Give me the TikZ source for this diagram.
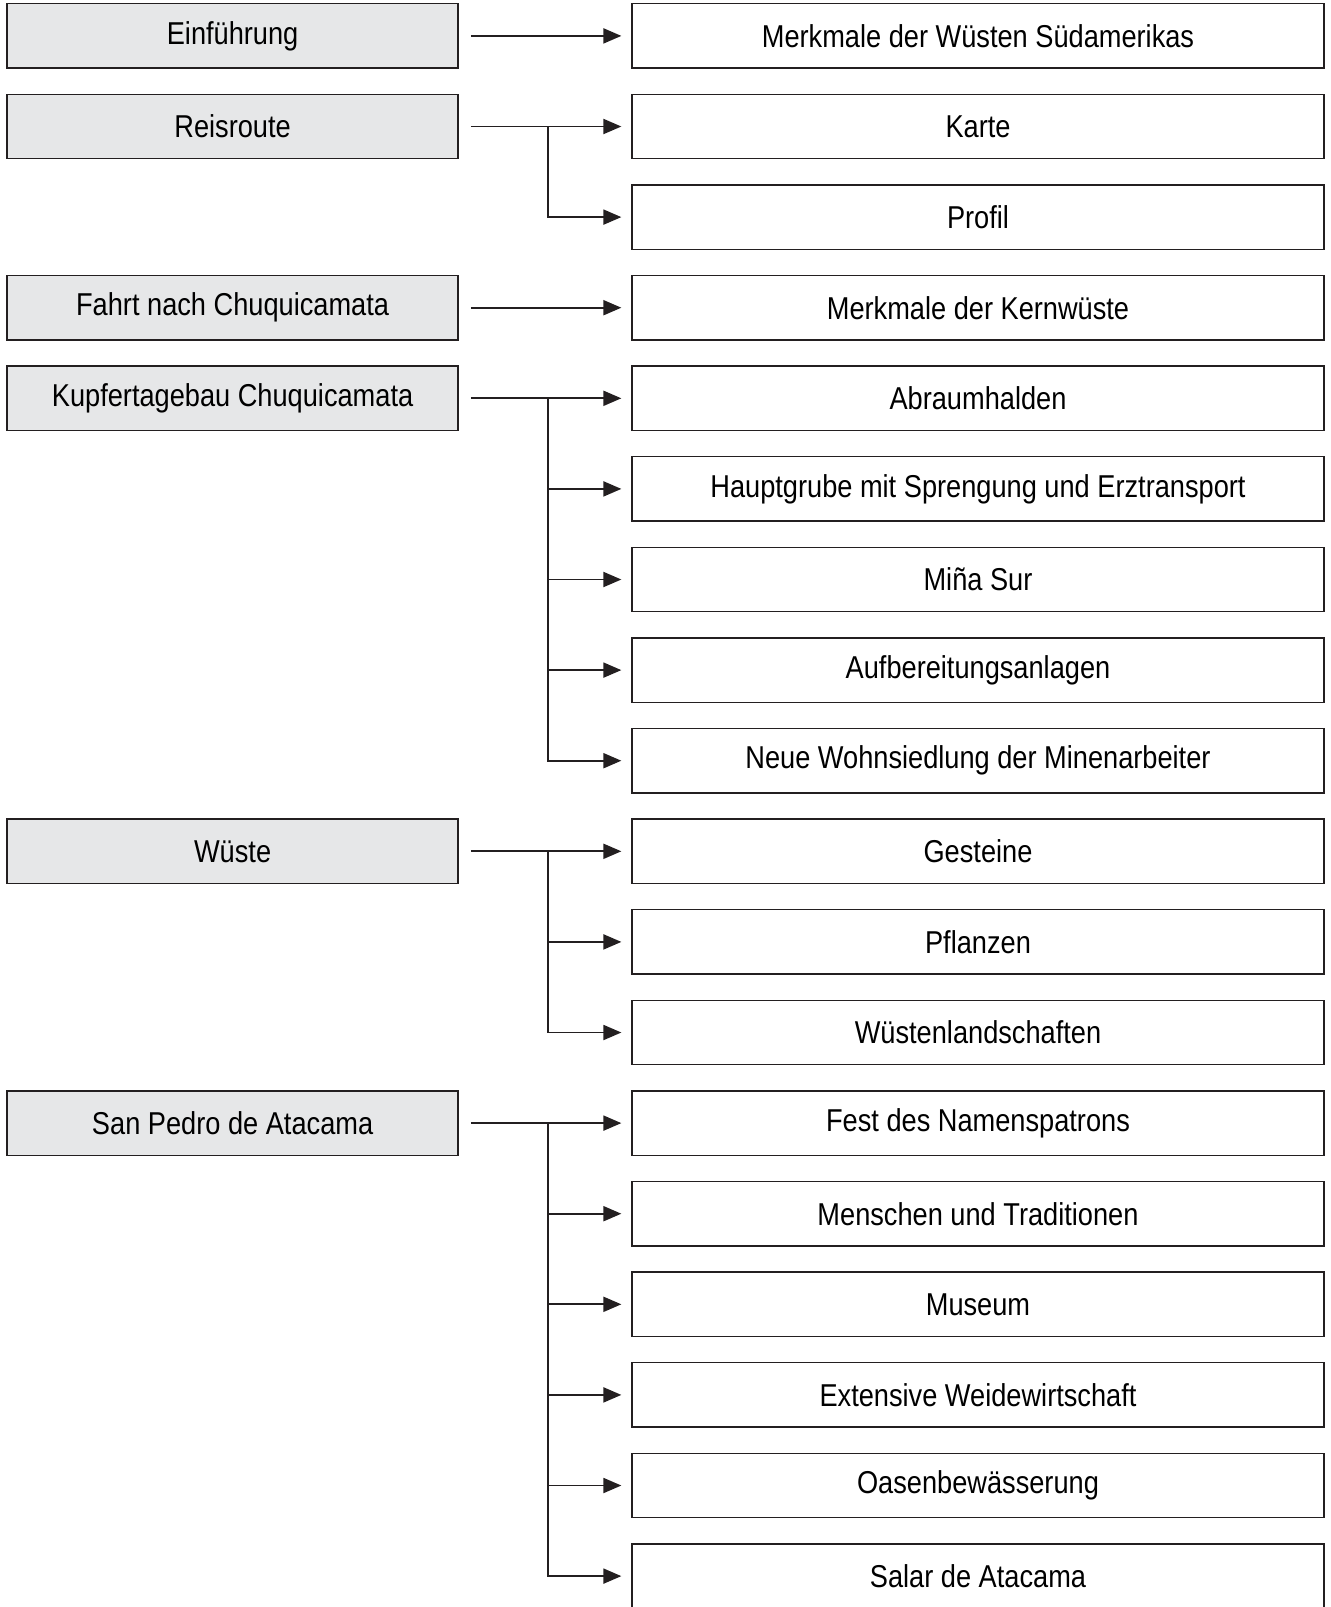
\documentclass[tikz,border=0pt]{standalone}
\usepackage{fontspec}
\setmainfont[FakeStretch=0.86]{Liberation Sans}
\usepackage{xcolor}
\usetikzlibrary{arrows.meta,positioning}
\definecolor{boxgray}{HTML}{E6E7E8}
\definecolor{ink}{HTML}{231F20}

\begin{document}
\begin{tikzpicture}[x=0.02cm, y=-0.02cm, topic/.style={draw=ink, fill=boxgray, line width=0.8pt, minimum width=9.02cm, minimum height=1.29cm, inner sep=0pt, font=\fontsize{18}{20}\selectfont}, item/.style={draw=ink, fill=white, line width=0.8pt, minimum width=13.84cm, minimum height=1.29cm, inner sep=0pt, font=\fontsize{18}{20}\selectfont}, link/.style={draw=ink, line width=1.1pt}, arr/.style={link, shorten >=0.2cm, -{Triangle[length=0.36cm, width=0.3cm]}}]
\useasboundingbox (0,0) rectangle (1330,1607);
% topics on the left
\node[topic] (t0) at (232.6,35.9) {Einführung};
\node[topic] (t1) at (232.6,126.5) {Reisroute};
\node[topic] (t3) at (232.6,307.7) {Fahrt nach Chuquicamata};
\node[topic] (t4) at (232.6,398.3) {Kupfertagebau Chuquicamata};
\node[topic] (t9) at (232.6,851.3) {Wüste};
\node[topic] (t12) at (232.6,1123.1) {San Pedro de Atacama};
% items on the right
\node[item] (r0) at (978,35.9) {Merkmale der Wüsten Südamerikas};
\node[item] (r1) at (978,126.5) {Karte};
\node[item] (r2) at (978,217.1) {Profil};
\node[item] (r3) at (978,307.7) {Merkmale der Kernwüste};
\node[item] (r4) at (978,398.3) {Abraumhalden};
\node[item] (r5) at (978,488.9) {Hauptgrube mit Sprengung und Erztransport};
\node[item] (r6) at (978,579.5) {Miña Sur};
\node[item] (r7) at (978,670.1) {Aufbereitungsanlagen};
\node[item] (r8) at (978,760.7) {Neue Wohnsiedlung der Minenarbeiter};
\node[item] (r9) at (978,851.3) {Gesteine};
\node[item] (r10) at (978,941.9) {Pflanzen};
\node[item] (r11) at (978,1032.5) {Wüstenlandschaften};
\node[item] (r12) at (978,1123.1) {Fest des Namenspatrons};
\node[item] (r13) at (978,1213.7) {Menschen und Traditionen};
\node[item] (r14) at (978,1304.3) {Museum};
\node[item] (r15) at (978,1394.9) {Extensive Weidewirtschaft};
\node[item] (r16) at (978,1485.5) {Oasenbewässerung};
\node[item] (r17) at (978,1576.1) {Salar de Atacama};
% branch points
\coordinate (j1) at (548,126.5);
\coordinate (j4) at (548,398.3);
\coordinate (j9) at (548,851.3);
\coordinate (j12) at (548,1123.1);
% connectors
\draw[arr, shorten <=0.24cm] (t0.east) -- (r0.west);
\draw[arr, shorten <=0.24cm] (t1.east) -- (r1.west);
\draw[arr] (j1) |- (r2.west);
\draw[arr, shorten <=0.24cm] (t3.east) -- (r3.west);
\draw[arr, shorten <=0.24cm] (t4.east) -- (r4.west);
\draw[arr] (j4) |- (r5.west);
\draw[arr] (j4) |- (r6.west);
\draw[arr] (j4) |- (r7.west);
\draw[arr] (j4) |- (r8.west);
\draw[arr, shorten <=0.24cm] (t9.east) -- (r9.west);
\draw[arr] (j9) |- (r10.west);
\draw[arr] (j9) |- (r11.west);
\draw[arr, shorten <=0.24cm] (t12.east) -- (r12.west);
\draw[arr] (j12) |- (r13.west);
\draw[arr] (j12) |- (r14.west);
\draw[arr] (j12) |- (r15.west);
\draw[arr] (j12) |- (r16.west);
\draw[arr] (j12) |- (r17.west);
\end{tikzpicture}
\end{document}
